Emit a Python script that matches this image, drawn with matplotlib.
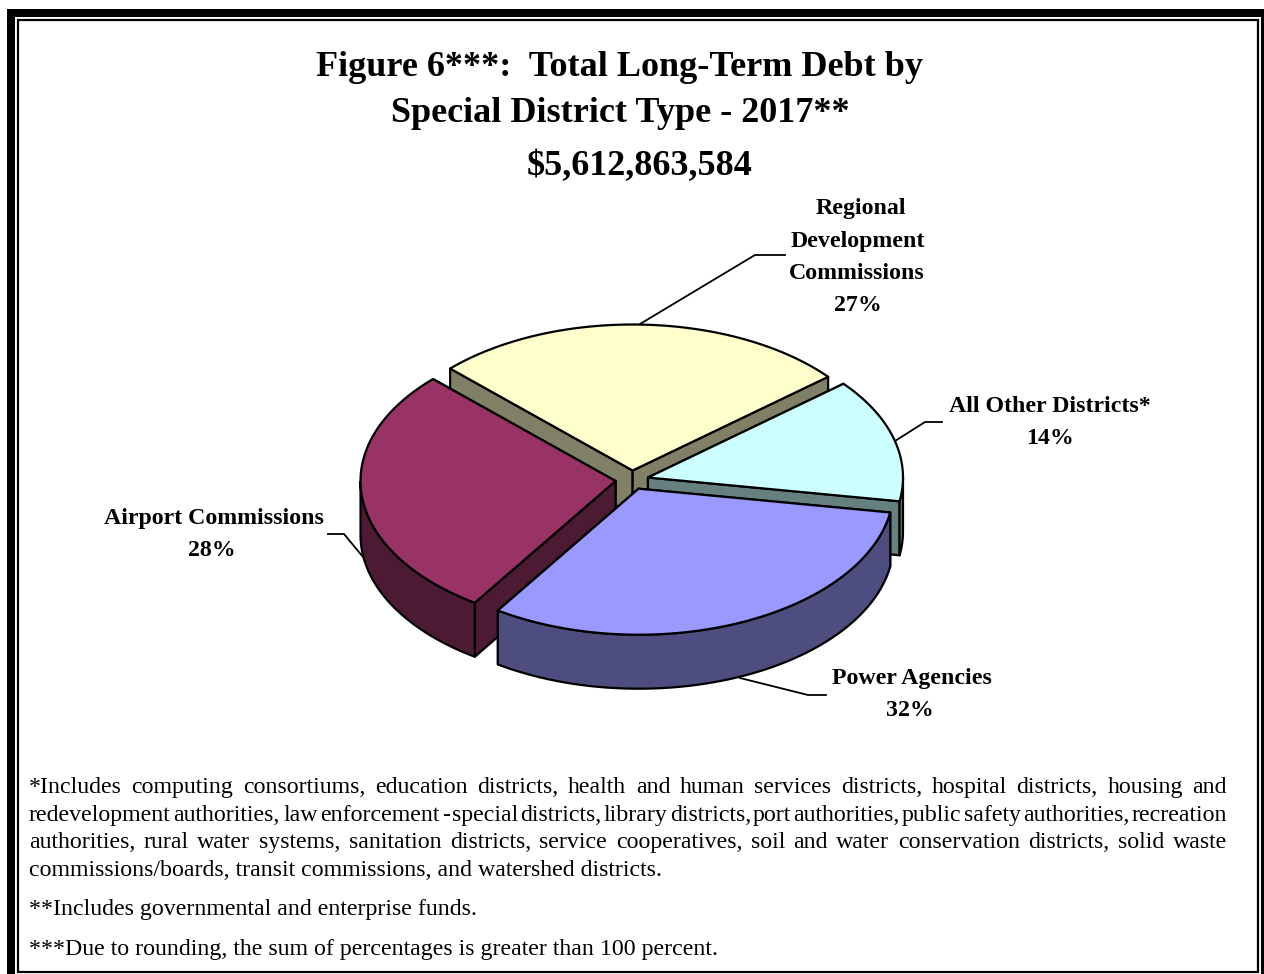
import numpy as np
from matplotlib import pyplot as plt
from matplotlib.patches import Polygon, Rectangle

plt.rcParams['font.family'] = ['Liberation Serif', 'DejaVu Serif']

# clockwise from the left edge of the regional slice
districts = ['Regional Development Commissions', 'All Other Districts*',
             'Power Agencies', 'Airport Commissions']
shares = [26.6, 13.7, 31.7, 28.0]
top_colors = ['#FFFFCC', '#CCFFFF', '#9999FF', '#993366']
side_colors = ['#808066', '#668080', '#4D4D80', '#4D1A33']
draw_order = [0, 1, 3, 2]

title_lines = ['Figure 6***:  Total Long-Term Debt by',
               'Special District Type - 2017**']
total_label = '$5,612,863,584'

justified_notes = [
    '*Includes computing consortiums, education districts, health and human services districts, hospital districts, housing and',
    'redevelopment authorities,  law enforcement - special districts, library districts, port authorities, public safety authorities, recreation',
    'authorities, rural water systems, sanitation districts, service cooperatives, soil and water conservation districts, solid waste',
]
plain_notes = [
    'commissions/boards, transit commissions, and watershed districts.',
    '**Includes governmental and enterprise funds.',
    '***Due to rounding, the sum of percentages is greater than 100 percent.',
]

CX, CY = 632, 480
RX, RY = 255, 146
DEPTH = 54
EXPLODE = 0.065
START = 135.7


def xy(t, ox, oy):
    return np.column_stack([ox + RX * np.cos(t), oy - RY * np.sin(t)])


def draw_slice(ax, t0, t1, top, side):
    # t0 > t1, the slice runs clockwise
    mid = (t0 + t1) / 2
    ox = CX + EXPLODE * RX * np.cos(mid)
    oy = CY - EXPLODE * RY * np.sin(mid)
    apex = np.array([[ox, oy]])
    down = np.array([0, DEPTH])
    style = dict(edgecolor='black', linewidth=1.6, joinstyle='round')

    # radial walls, the one further back first
    ends = sorted([t0, t1], key=lambda t: -np.sin(t))
    for t in ends:
        edge = np.vstack([apex, xy(np.array([t]), ox, oy)])
        ax.add_patch(Polygon(np.vstack([edge, edge[::-1] + down]),
                             facecolor=side, **style))

    # outer rim, only the front half of the ellipse shows
    ts = np.linspace(t0, t1, 300)
    ts = ts[np.sin(ts) <= 0]
    if len(ts) > 1:
        arc = xy(ts, ox, oy)
        ax.add_patch(Polygon(np.vstack([arc, arc[::-1] + down]),
                             facecolor=side, **style))

    outline = np.vstack([apex, xy(np.linspace(t0, t1, 300), ox, oy)])
    ax.add_patch(Polygon(outline, facecolor=top, **style))


def justified(ax, fig, line, y, x0, x1, size):
    words = line.split(' ')
    r = fig.canvas.get_renderer()
    items = [ax.text(x0, y, w, fontsize=size, va='baseline') for w in words]
    widths = [t.get_window_extent(r).width for t in items]
    gap = (x1 - x0 - sum(widths)) / (len(words) - 1)
    x = x0
    for t, w in zip(items, widths):
        t.set_x(x)
        x += w + gap


def main():
    fig = plt.figure(figsize=(12.64, 9.74), dpi=100)
    ax = fig.add_axes([0, 0, 1, 1])
    ax.set_xlim(0, 1264)
    ax.set_ylim(974, 0)
    ax.axis('off')

    # page frame
    ax.add_patch(Rectangle((7, 9), 1264, 1000, fill=False, lw=0, hatch=None))
    ax.add_patch(Rectangle((7, 9), 8, 965, color='black', lw=0))
    ax.add_patch(Rectangle((7, 9), 1257, 8, color='black', lw=0))
    ax.add_patch(Rectangle((1261, 9), 3, 965, color='black', lw=0))
    ax.add_patch(Rectangle((18, 20), 1240, 951.5, fill=False, ec='black', lw=1.6))

    for line, y in zip(title_lines, [76, 122]):
        ax.text(620, y, line, fontsize=26, fontweight='bold', ha='center', va='baseline')
    ax.text(640, 175, total_label, fontsize=26, fontweight='bold', ha='center', va='baseline')

    # slice limits in ellipse angle
    cuts = np.radians(START - np.cumsum([0] + shares) * 3.6)
    for i in draw_order:
        draw_slice(ax, cuts[i], cuts[i + 1], top_colors[i], side_colors[i])

    # leaders
    ax.plot([640, 755, 785], [324, 255, 255], color='black', lw=1.3)
    ax.plot([895, 925, 942], [441, 422, 422], color='black', lw=1.3)
    ax.plot([363, 344, 328], [557, 534, 534], color='black', lw=1.3)
    ax.plot([740, 808, 826], [678, 695, 695], color='black', lw=1.3)

    lab = dict(fontsize=17.2, fontweight='bold', ha='center', va='baseline')
    for line, x, y in [('Regional', 861, 214), ('Development', 858, 247),
                       ('Commissions', 857, 279), ('27%', 858, 311)]:
        ax.text(x, y, line, **lab)
    ax.text(1050, 412, districts[1], **lab)
    ax.text(1050, 444, '14%', **lab)
    ax.text(912, 684, districts[2], **lab)
    ax.text(910, 716, '32%', **lab)
    ax.text(214, 524, districts[3], **lab)
    ax.text(212, 556, '28%', **lab)

    size = 17.2
    for line, y in zip(justified_notes, [793, 821, 848]):
        justified(ax, fig, line, y, 29, 1227, size)
    for line, y in zip(plain_notes, [876, 915, 955]):
        ax.text(29, y, line, fontsize=size, va='baseline')

    fig.savefig('out.png', dpi=100)


if __name__ == '__main__':
    main()
